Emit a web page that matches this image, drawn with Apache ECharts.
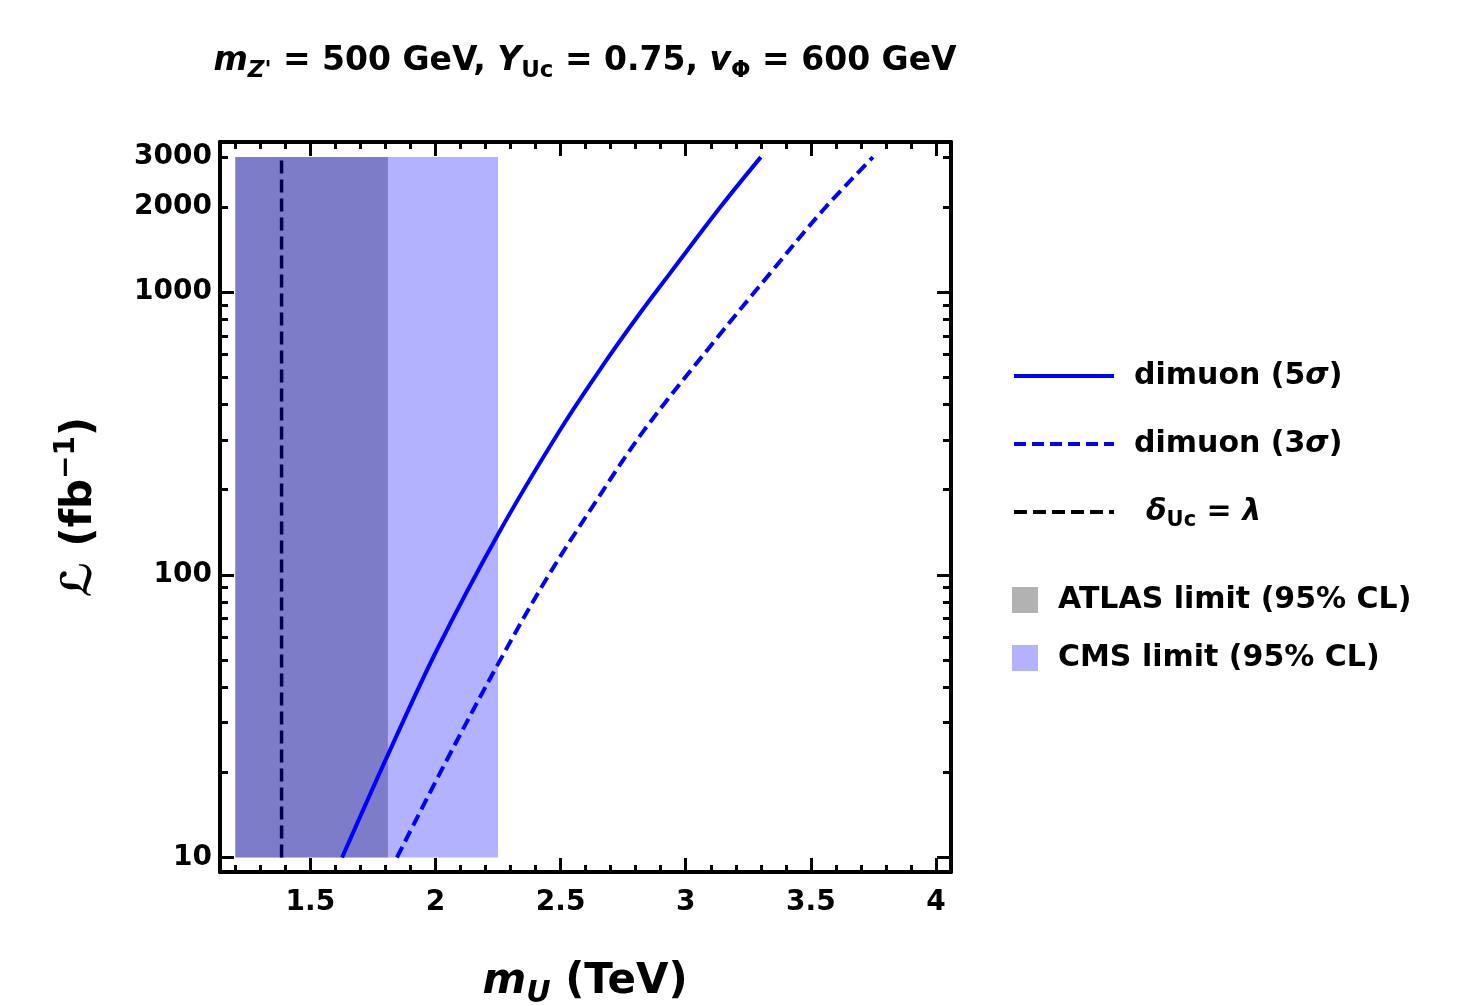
<!DOCTYPE html>
<html><head><meta charset="utf-8">
<script src="https://cdn.jsdelivr.net/npm/echarts@6/dist/echarts.min.js"></script>
<style>html,body{margin:0;padding:0;background:#fff}#c{width:1473px;height:1006px}</style>
</head><body><div id="c"></div>
<script>
// ---- data ----
const xRange = [1.139, 4.06];
const yRange = [8.886, 3393];
const xMajorTicks = [1.5, 2, 2.5, 3, 3.5, 4];
const xMinorTicks = [1.2, 1.3, 1.4, 1.6, 1.7, 1.8, 1.9, 2.1, 2.2, 2.3, 2.4, 2.6, 2.7, 2.8, 2.9, 3.1, 3.2, 3.3, 3.4, 3.6, 3.7, 3.8, 3.9, 4.0];
const yLabelTicks = [10, 100, 1000, 2000, 3000];
const yMajorTicks = [10, 100, 1000];
const yMinorTicks = [20, 30, 40, 50, 60, 70, 80, 90, 200, 300, 400, 500, 600, 700, 800, 900, 2000, 3000];
const atlasBand = [[1.2, 1.81, 10, 3000]];
const cmsBand = [[1.2, 2.25, 10, 3000]];
const deltaLine = [[1.385, 10], [1.385, 3000]];
const dimuon5Sigma = [[1.627,10],[1.813,23.4],[2.006,54.3],[2.252,140],[2.498,325],[2.684,575],[2.817,841],[2.937,1164],[3.137,1990],[3.30,3000]];
const dimuon3Sigma = [[1.846,10],[2.032,21],[2.252,48.7],[2.445,97.2],[2.631,176],[2.831,322],[3.124,686],[3.337,1164],[3.549,1950],[3.748,3000]];
const names = {s5: 'dimuon (5σ)', s3: 'dimuon (3σ)', d: 'δUc = λ', atlas: 'ATLAS limit (95% CL)', cms: 'CMS limit (95% CL)'};

// ---- styles ----
const FF = 'DejaVu Sans';
const tickLabel = {fontFamily: FF, fontWeight: 'bold', fontSize: 28, color: '#000'};
function xAx(pos, major) {
  return {
    type: 'value', min: xRange[0], max: xRange[1], position: pos,
    axisLine: {show: major, onZero: false, lineStyle: {color: '#000', width: 4}},
    axisTick: {show: true, inside: true, length: major ? 14 : 7, lineStyle: {color: '#000', width: 3},
      customValues: major ? xMajorTicks : xMinorTicks},
    axisLabel: (major && pos === 'bottom') ? Object.assign({show: true, margin: 17, customValues: xMajorTicks}, tickLabel) : {show: false},
    splitLine: {show: false}, minorTick: {show: false}
  };
}
function yAx(pos, major) {
  return {
    type: 'log', logBase: 10, min: yRange[0], max: yRange[1], position: pos,
    axisLine: {show: major, onZero: false, lineStyle: {color: '#000', width: 4}},
    axisTick: {show: true, inside: true, length: major ? 14 : 8, lineStyle: {color: '#000', width: 3},
      customValues: major ? yMajorTicks : yMinorTicks},
    axisLabel: (major && pos === 'left') ? Object.assign({show: true, margin: 8, customValues: yLabelTicks,
      formatter: function (v) { return String(Math.round(v)); }}, tickLabel) : {show: false},
    splitLine: {show: false}, minorTick: {show: false}
  };
}
const richBase = {
  i: {fontFamily: FF, fontWeight: 'bold', fontStyle: 'italic', fontSize: 30, color: '#000'},
  sub: {fontFamily: FF, fontWeight: 'bold', fontSize: 21, color: '#000', padding: [18, 0, 0, 0]},
  t: {fontFamily: FF, fontWeight: 'bold', fontSize: 30, color: '#000'},
  sp: {fontFamily: FF, fontWeight: 'bold', fontSize: 30, width: 12}
};
function rectRender(params, api) {
  const p0 = api.coord([api.value(0), api.value(3)]);
  const p1 = api.coord([api.value(1), api.value(2)]);
  return {type: 'rect', shape: {x: p0[0], y: p0[1], width: p1[0] - p0[0], height: p1[1] - p0[1]},
    style: {fill: api.visual('color')}};
}

const chart = echarts.init(document.getElementById('c'), null, {renderer: 'canvas'});
chart.setOption({
  animation: false,
  backgroundColor: '#fff',
  grid: {left: 220, right: 522, top: 142, bottom: 134, containLabel: false},
  xAxis: [xAx('bottom', true), xAx('top', true), xAx('bottom', false), xAx('top', false)],
  yAxis: [yAx('left', true), yAx('right', true), yAx('left', false), yAx('right', false)],
  legend: [
    {
      orient: 'vertical', left: 1012, top: 361, padding: 0, itemWidth: 100, itemHeight: 28, itemGap: 38,
      selectedMode: false,
      data: [names.s5, names.s3, names.d],
      lineStyle: {width: 4},
      itemStyle: {opacity: 0},
      formatter: function (n) {
        if (n === names.s5) return 'dimuon (5{i|σ})';
        if (n === names.s3) return 'dimuon (3{i|σ})';
        return '{sp|}{i|δ}{sub|Uc}{t| = }{i|λ}';
      },
      textStyle: {fontFamily: FF, fontWeight: 'bold', fontSize: 30, color: '#000', padding: [0, 0, 0, 15], rich: richBase}
    },
    {
      orient: 'vertical', left: 1012, top: 585, padding: 0, itemWidth: 26, itemHeight: 26, itemGap: 28,
      selectedMode: false,
      data: [{name: names.atlas, icon: 'rect'}, {name: names.cms, icon: 'rect'}],
      textStyle: {fontFamily: FF, fontWeight: 'bold', fontSize: 30, color: '#000', padding: [0, 0, 0, 15]}
    }
  ],
  graphic: [
    {type: 'text', x: 585, y: 61, z: 10, style: {
      text: '{i|m}{subi|Z\'}{t| = 500 GeV, }{i|Y}{sub|Uc}{t| = 0.75, }{i|v}{sub|Φ}{t| = 600 GeV}',
      align: 'center', verticalAlign: 'middle', textAlign: 'center', textVerticalAlign: 'middle',
      rich: {
        i: {fontFamily: FF, fontWeight: 'bold', fontStyle: 'italic', fontSize: 33, color: '#000'},
        t: {fontFamily: FF, fontWeight: 'bold', fontSize: 33, color: '#000'},
        sub: {fontFamily: FF, fontWeight: 'bold', fontSize: 23, color: '#000', padding: [20, 0, 0, 0]},
        subi: {fontFamily: FF, fontWeight: 'bold', fontStyle: 'italic', fontSize: 23, color: '#000', padding: [20, 0, 0, 0]}
      }
    }},
    {type: 'text', x: 585, y: 982, z: 10, style: {
      text: '{i|m}{subi|U}{t| (TeV)}',
      align: 'center', verticalAlign: 'middle', textAlign: 'center', textVerticalAlign: 'middle',
      rich: {
        i: {fontFamily: FF, fontWeight: 'bold', fontStyle: 'italic', fontSize: 42, color: '#000'},
        t: {fontFamily: FF, fontWeight: 'bold', fontSize: 42, color: '#000'},
        subi: {fontFamily: FF, fontWeight: 'bold', fontStyle: 'italic', fontSize: 30, color: '#000', padding: [24, 0, 0, 0]}
      }
    }},
    {type: 'text', x: 80, y: 507, rotation: Math.PI / 2, z: 10, style: {
      text: '{t|ℒ (fb}{sup|−1}{t|)}',
      align: 'center', verticalAlign: 'middle', textAlign: 'center', textVerticalAlign: 'middle',
      rich: {
        t: {fontFamily: FF, fontWeight: 'bold', fontSize: 42, color: '#000'},
        sup: {fontFamily: FF, fontWeight: 'bold', fontSize: 28, color: '#000', padding: [0, 0, 26, 0]}
      }
    }}
  ],
  series: [
    {name: names.d, type: 'line', z: 1, data: deltaLine, symbol: 'none', xAxisIndex: 0, yAxisIndex: 0,
      lineStyle: {color: '#000', width: 3.5, type: [13, 6]}, itemStyle: {color: '#000'}},
    {name: names.atlas, type: 'custom', z: 2, renderItem: rectRender, data: atlasBand, xAxisIndex: 0, yAxisIndex: 0,
      encode: {x: [0, 1], y: [2, 3]}, itemStyle: {color: 'rgba(0,0,0,0.3)'}},
    {name: names.cms, type: 'custom', z: 2, renderItem: rectRender, data: cmsBand, xAxisIndex: 0, yAxisIndex: 0,
      encode: {x: [0, 1], y: [2, 3]}, itemStyle: {color: 'rgba(0,0,255,0.3)'}},
    {name: names.s5, type: 'line', z: 3, data: dimuon5Sigma, symbol: 'none', smooth: 0.35, xAxisIndex: 0, yAxisIndex: 0,
      lineStyle: {color: '#0000ff', width: 4, type: 'solid'}, itemStyle: {color: '#0000ff'}},
    {name: names.s3, type: 'line', z: 3, data: dimuon3Sigma, symbol: 'none', smooth: 0.35, xAxisIndex: 0, yAxisIndex: 0,
      lineStyle: {color: '#0000ff', width: 4, type: [12, 6]}, itemStyle: {color: '#0000ff'}}
  ]
});
</script></body></html>
